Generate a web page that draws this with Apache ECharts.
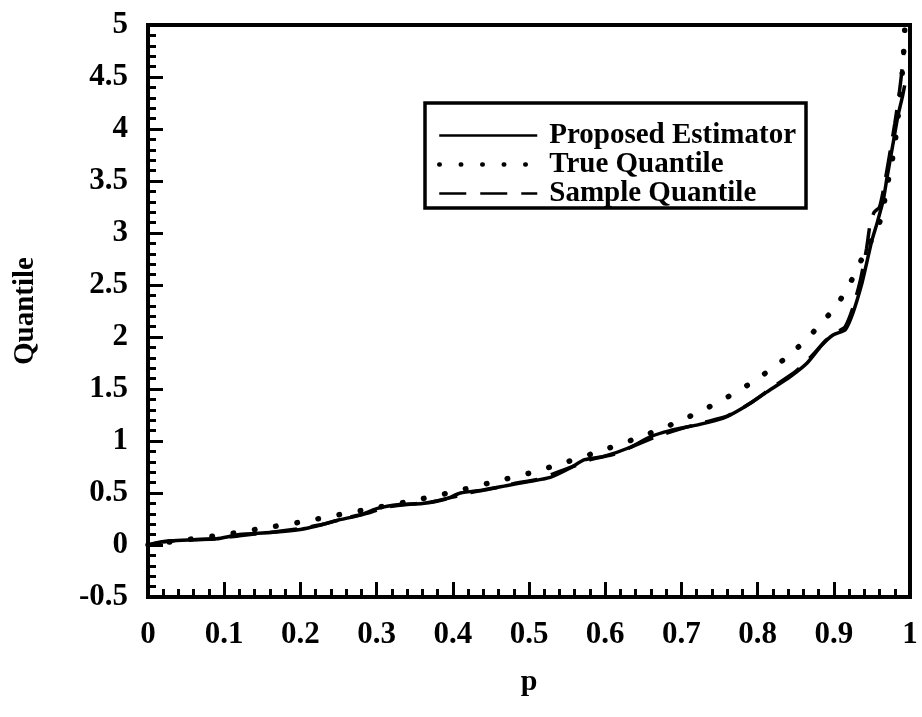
<!DOCTYPE html>
<html>
<head>
<meta charset="utf-8">
<script src="https://cdn.jsdelivr.net/npm/echarts@6/dist/echarts.min.js"></script>
<style>
  html, body { margin: 0; padding: 0; background: #fff; }
  #chart { width: 922px; height: 717px; }
</style>
</head>
<body>
<div id="chart"></div>
<script>
// 数据：从原图读出的 (p, 分位数) 点
const proposedEstimator = [
  [0, 0.0], [0.01, 0.02], [0.03, 0.04], [0.06, 0.05], [0.09, 0.06], [0.12, 0.1],
  [0.16, 0.12], [0.2, 0.15], [0.22, 0.18], [0.25, 0.24], [0.28, 0.29], [0.3, 0.35],
  [0.33, 0.39], [0.36, 0.4], [0.39, 0.44], [0.41, 0.5], [0.44, 0.53], [0.47, 0.57],
  [0.5, 0.61], [0.528, 0.65], [0.554, 0.74], [0.573, 0.82], [0.597, 0.85], [0.633, 0.94],
  [0.659, 1.04], [0.685, 1.1], [0.724, 1.16], [0.755, 1.22], [0.781, 1.32], [0.812, 1.47],
  [0.843, 1.62], [0.865, 1.75], [0.884, 1.92], [0.899, 2.02], [0.915, 2.07], [0.925, 2.23],
  [0.937, 2.52], [0.944, 2.74], [0.95, 2.93], [0.957, 3.1], [0.965, 3.32], [0.97, 3.54],
  [0.978, 3.87], [0.984, 4.12], [0.99, 4.31], [0.993, 4.42],
];
const trueQuantile = [
  [0, 0], [0.05, 0.05], [0.1, 0.1], [0.15, 0.16], [0.2, 0.22], [0.25, 0.29], [0.3, 0.36],
  [0.35, 0.43], [0.4, 0.51], [0.45, 0.6], [0.5, 0.69], [0.55, 0.8], [0.6, 0.92], [0.65, 1.05],
  [0.7, 1.2], [0.75, 1.38], [0.8, 1.6], [0.85, 1.88], [0.9, 2.27], [0.92, 2.5], [0.94, 2.8],
  [0.96, 3.1], [0.97, 3.45], [0.98, 3.85], [0.99, 4.55], [0.993, 4.95],
];
const sampleQuantile = [
  [0, 0], [0.02, 0.03], [0.05, 0.05], [0.09, 0.06], [0.12, 0.09], [0.16, 0.12], [0.2, 0.16],
  [0.23, 0.2], [0.26, 0.26], [0.29, 0.31], [0.31, 0.36], [0.34, 0.39], [0.37, 0.41], [0.4, 0.46],
  [0.42, 0.5], [0.45, 0.54], [0.48, 0.59], [0.51, 0.63], [0.53, 0.68], [0.56, 0.76], [0.58, 0.82],
  [0.61, 0.87], [0.64, 0.96], [0.67, 1.05], [0.7, 1.12], [0.73, 1.18], [0.76, 1.24], [0.79, 1.36],
  [0.82, 1.52], [0.85, 1.67], [0.87, 1.81], [0.89, 1.97], [0.905, 2.05], [0.915, 2.1],
  [0.925, 2.28], [0.935, 2.55], [0.943, 2.85], [0.948, 3.1], [0.953, 3.2], [0.96, 3.25],
  [0.966, 3.45], [0.972, 3.7], [0.98, 4.05], [0.986, 4.35], [0.99, 4.6], [0.992, 4.75],
];
const SERIES_NAMES = ['Proposed Estimator', 'True Quantile', 'Sample Quantile'];
const X_MIN = 0, X_MAX = 1, X_STEP = 0.1;
const Y_MIN = -0.5, Y_MAX = 5, Y_STEP = 0.5;

const FONT = '"Liberation Serif", "DejaVu Serif", serif';
const label = { color: '#000', fontFamily: FONT, fontWeight: 'bold', fontSize: 30 };
const noSymbol = { color: 'rgba(0,0,0,0)', borderWidth: 0 };

const chart = echarts.init(document.getElementById('chart'));
chart.setOption({
  animation: false,
  grid: {
    left: 148, right: 12, top: 25, bottom: 120,
    show: true, borderColor: '#000', borderWidth: 4,
  },
  legend: {
    orient: 'vertical',
    left: 425, top: 103,
    padding: [18, 10, 0, 12],
    borderColor: '#000', borderWidth: 3.5,
    itemWidth: 98, itemHeight: 14, itemGap: 0,
    itemStyle: noSymbol,
    textStyle: { ...label, fontSize: 29, lineHeight: 29, padding: [0, 0, 0, 7] },
    data: [
      { name: SERIES_NAMES[0], itemStyle: noSymbol, lineStyle: { width: 2.5 } },
      { name: SERIES_NAMES[1], itemStyle: noSymbol, lineStyle: { width: 4.5 } },
      { name: SERIES_NAMES[2], itemStyle: noSymbol, lineStyle: { width: 2.5 } },
    ],
  },
  xAxis: {
    type: 'value', min: X_MIN, max: X_MAX, interval: X_STEP,
    name: 'p', nameLocation: 'middle', nameGap: 70,
    nameTextStyle: label,
    axisLine: { onZero: false, lineStyle: { color: '#000', width: 4 } },
    axisTick: { inside: true, length: 15, lineStyle: { color: '#000', width: 3 } },
    minorTick: { show: true, splitNumber: 5, length: 8, lineStyle: { color: '#000', width: 3 } },
    axisLabel: { ...label, fontSize: 31, margin: 22 },
    splitLine: { show: false },
  },
  yAxis: {
    type: 'value', min: Y_MIN, max: Y_MAX, interval: Y_STEP,
    name: 'Quantile', nameLocation: 'middle', nameGap: 108, nameRotate: 90,
    nameTextStyle: { ...label, fontSize: 29 },
    axisLine: { onZero: false, lineStyle: { color: '#000', width: 4 } },
    axisTick: { inside: true, length: 15, lineStyle: { color: '#000', width: 3 } },
    minorTick: { show: true, splitNumber: 5, length: 8, lineStyle: { color: '#000', width: 3 } },
    axisLabel: { ...label, fontSize: 31, margin: 20 },
    splitLine: { show: false },
  },
  series: [
    {
      name: SERIES_NAMES[1], type: 'line', data: trueQuantile, symbol: 'none', smooth: 0.3,
      lineStyle: { color: '#000', width: 5.5, type: [0.5, 21], cap: 'round' },
      itemStyle: { color: '#000' },
    },
    {
      name: SERIES_NAMES[0], type: 'line', data: proposedEstimator, symbol: 'none', smooth: 0.2,
      lineStyle: { color: '#000', width: 3.5 },
      itemStyle: { color: '#000' },
    },
    {
      name: SERIES_NAMES[2], type: 'line', data: sampleQuantile, symbol: 'none', smooth: 0.2,
      lineStyle: { color: '#000', width: 3.5, type: [27, 14] },
      itemStyle: { color: '#000' },
    },
  ],
});
</script>
</body>
</html>
